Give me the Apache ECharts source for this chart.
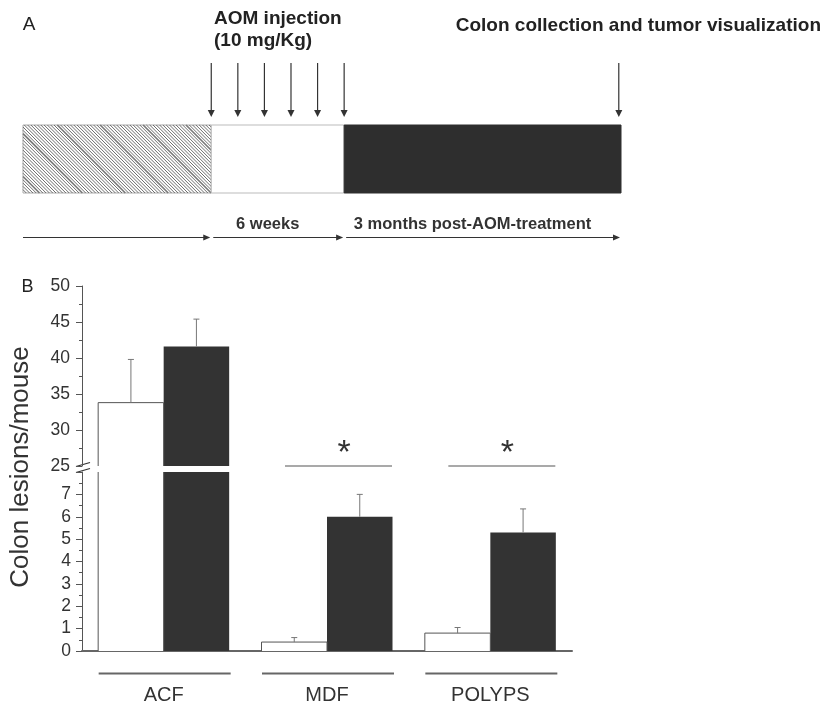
<!DOCTYPE html>
<html>
<head>
<meta charset="utf-8">
<script src="https://cdn.jsdelivr.net/npm/echarts@6/dist/echarts.min.js"></script>
<style>
html,body{margin:0;padding:0;background:#fff;}
#chart{width:823px;height:705px;}
</style>
</head>
<body>
<div id="chart"></div>
<script>
// ---------- data ----------
const categories = ['ACF', 'MDF', 'POLYPS'];
const controlMeans = [33.8, 0.4, 0.8];
const controlSEM = [6.0, 0.2, 0.25];
const treatedMeans = [41.6, 6.0, 5.3];
const treatedSEM = [3.8, 1.0, 1.05];
const significantCats = ['MDF', 'POLYPS'];
const upperRange = [25, 50];
const lowerRange = [0, 8];
const lowerTickLabels = [0, 1, 2, 3, 4, 5, 6, 7];

// Panel A timeline (weeks)
const phaseStart = [0, 8.5, 14.5];
const phaseEnd = [8.5, 14.5, 27];
const phaseLabels = ['', '6 weeks', '3 months post-AOM-treatment'];
const injectionWeeks = [8.5, 9.7, 10.9, 12.1, 13.3, 14.5];
const collectionWeeks = [26.9];

// ---------- styling ----------
const FONT = 'Liberation Sans, Arial, sans-serif';
const BAR_W = 65.5;
const INK = '#333';

const chart = echarts.init(document.getElementById('chart'), null, {renderer: 'canvas'});

function phaseRenderer(params, api) {
  const i = params.dataIndex;
  const p0 = api.coord([api.value(0), 1]);
  const p1 = api.coord([api.value(1), 0]);
  const x0 = p0[0], y0 = p0[1], x1 = p1[0], y1 = p1[1];
  const w = x1 - x0, h = y1 - y0;
  const children = [];
  if (i === 0) {
    children.push({type: 'rect', shape: {x: x0, y: y0, width: w, height: h}, style: {fill: '#fff', stroke: '#aaa', lineWidth: 1}});
    const step = 3.3;
    let k = 0;
    for (let t = -h; t < w; t += step, k++) {
      let sx = x0 + t, sy = y0;
      if (sx < x0) { sy = y0 + (x0 - sx); sx = x0; }
      let ex = x0 + t + h, ey = y1;
      if (ex > x1) { ey = y1 - (ex - x1); ex = x1; }
      const heavy = (k % 13 === 5);
      children.push({type: 'line', shape: {x1: sx, y1: sy, x2: ex, y2: ey},
        style: {stroke: heavy ? '#777' : '#5e5e5e', lineWidth: heavy ? 1.6 : 0.9}});
    }
  } else if (i === 1) {
    children.push({type: 'rect', shape: {x: x0, y: y0, width: w, height: h}, style: {fill: '#fff', stroke: '#bbb', lineWidth: 1}});
  } else {
    children.push({type: 'rect', shape: {x: x0, y: y0, width: w, height: h}, style: {fill: '#2e2e2e', stroke: '#2e2e2e', lineWidth: 1}});
  }
  const ya = y1 + 44.5;
  const xs = x0 + (i > 0 ? 2 : 0), xe = x1 - 1;
  children.push({type: 'line', shape: {x1: xs, y1: ya, x2: xe - 5, y2: ya}, style: {stroke: INK, lineWidth: 1.2}});
  children.push({type: 'polygon', shape: {points: [[xe - 7, ya - 3], [xe, ya], [xe - 7, ya + 3]]}, style: {fill: INK}});
  if (phaseLabels[i]) {
    children.push({type: 'text', x: (x0 + x1) / 2 - 10, y: y1 + 31,
      style: {text: phaseLabels[i], font: 'bold 16.5px ' + FONT, fill: INK, textAlign: 'center', textVerticalAlign: 'middle'}});
  }
  return {type: 'group', children};
}

function arrowDownRenderer(params, api) {
  const p = api.coord([api.value(0), 1]);
  const x = p[0], top = p[1];
  return {type: 'group', children: [
    {type: 'line', shape: {x1: x, y1: top - 62, x2: x, y2: top - 12}, style: {stroke: INK, lineWidth: 1.2}},
    {type: 'polygon', shape: {points: [[x - 3.5, top - 15], [x + 3.5, top - 15], [x, top - 8]]}, style: {fill: INK}}
  ]};
}

function outlineRenderer(params, api) {
  const cs = params.coordSys;
  const i = api.value(0), v = api.value(1);
  const pt = api.coord([i, v]);
  const base = api.coord([i, 0])[1];
  const cx = pt[0], yTop = pt[1];
  const gTop = cs.y, gBot = cs.y + cs.height;
  const top = Math.max(yTop, gTop), bot = Math.min(base, gBot);
  if (top >= bot) return null;
  const xl = cx - BAR_W, xr = cx;
  const st = {stroke: '#555', lineWidth: 1};
  const ch = [
    {type: 'line', shape: {x1: xl, y1: top, x2: xl, y2: bot}, style: st},
    {type: 'line', shape: {x1: xr, y1: top, x2: xr, y2: bot}, style: st}
  ];
  if (yTop >= gTop) ch.push({type: 'line', shape: {x1: xl, y1: yTop, x2: xr, y2: yTop}, style: st});
  return {type: 'group', children: ch};
}

function makeErrRenderer(range) {
  return function (params, api) {
    const i = api.value(0), m = api.value(1), t = api.value(2), g = api.value(3);
    if (m < range[0] || t > range[1]) return null;
    const pm = api.coord([i, m]), pt = api.coord([i, t]);
    const x = pm[0] + (g === 0 ? -BAR_W / 2 : BAR_W / 2);
    const st = {stroke: '#777', lineWidth: 1};
    return {type: 'group', children: [
      {type: 'line', shape: {x1: x, y1: pm[1], x2: x, y2: pt[1]}, style: st},
      {type: 'line', shape: {x1: x - 3, y1: pt[1], x2: x + 3, y2: pt[1]}, style: st}
    ]};
  };
}

function sigRenderer(params, api) {
  const cs = params.coordSys;
  const i = api.value(0);
  const cx = api.coord([i, upperRange[0]])[0];
  const y = cs.y + cs.height;
  return {type: 'group', children: [
    {type: 'line', shape: {x1: cx - 42, y1: y, x2: cx + 65, y2: y}, style: {stroke: '#555', lineWidth: 1.2}},
    {type: 'text', x: cx + 17, y: y - 12, style: {text: '*', font: '34px ' + FONT, fill: INK, textAlign: 'center', textVerticalAlign: 'middle'}}
  ]};
}

function underlineRenderer(params, api) {
  const p = api.coord([api.value(0), 0]);
  const y = p[1] + 22.6;
  return {type: 'line', shape: {x1: p[0] - 65, y1: y, x2: p[0] + 67, y2: y}, style: {stroke: '#666', lineWidth: 2}};
}

const errData = [];
categories.forEach((c, i) => {
  errData.push([i, controlMeans[i], controlMeans[i] + controlSEM[i], 0]);
  errData.push([i, treatedMeans[i], treatedMeans[i] + treatedSEM[i], 1]);
});

const yAxisCommon = {
  axisLine: {show: true, lineStyle: {color: '#555', width: 1}},
  axisTick: {show: true, length: 6, lineStyle: {color: '#555'}},
  minorTick: {show: true, splitNumber: 2, length: 3, lineStyle: {color: '#555'}},
  splitLine: {show: false},
  axisLabel: {fontSize: 17.5, color: INK, fontFamily: FONT, margin: 12}
};

const option = {
  animation: false,
  backgroundColor: '#fff',
  grid: [
    {left: 23, top: 125, width: 598, height: 68},
    {left: 82, top: 286, width: 490, height: 180},
    {left: 82, top: 472, width: 490, height: 179}
  ],
  xAxis: [
    {gridIndex: 0, type: 'value', min: 0, max: 27, show: false},
    {gridIndex: 1, type: 'category', data: categories, show: false},
    {gridIndex: 2, type: 'category', data: categories,
      axisLine: {show: true, lineStyle: {color: '#666', width: 2}},
      axisTick: {show: false},
      axisLabel: {margin: 34, fontSize: 20, color: INK, fontFamily: FONT}}
  ],
  yAxis: [
    {gridIndex: 0, type: 'value', min: 0, max: 1, show: false},
    Object.assign({gridIndex: 1, type: 'value', min: upperRange[0], max: upperRange[1], interval: 5}, yAxisCommon),
    Object.assign({gridIndex: 2, type: 'value', min: lowerRange[0], max: lowerRange[1], interval: 1}, yAxisCommon,
      {axisLabel: Object.assign({}, yAxisCommon.axisLabel, {margin: 11, customValues: lowerTickLabels})})
  ],
  series: [
    {type: 'custom', name: 'phases', xAxisIndex: 0, yAxisIndex: 0, renderItem: phaseRenderer,
      data: phaseStart.map((s, i) => [s, phaseEnd[i]]), encode: {x: [0, 1], y: -1}, silent: true},
    {type: 'custom', name: 'arrows', xAxisIndex: 0, yAxisIndex: 0, renderItem: arrowDownRenderer,
      data: injectionWeeks.concat(collectionWeeks).map(w => [w]), encode: {x: 0, y: -1}, silent: true},

    {type: 'bar', name: 'Control', xAxisIndex: 1, yAxisIndex: 1, data: controlMeans, barWidth: BAR_W, barGap: '0%',
      itemStyle: {color: '#fff'}, clip: true, silent: true},
    {type: 'bar', name: 'Treated', xAxisIndex: 1, yAxisIndex: 1, data: treatedMeans, barWidth: BAR_W, barGap: '0%',
      itemStyle: {color: '#333'}, clip: true, silent: true},
    {type: 'bar', name: 'Control', xAxisIndex: 2, yAxisIndex: 2, data: controlMeans, barWidth: BAR_W, barGap: '0%',
      itemStyle: {color: '#fff'}, clip: true, silent: true},
    {type: 'bar', name: 'Treated', xAxisIndex: 2, yAxisIndex: 2, data: treatedMeans, barWidth: BAR_W, barGap: '0%',
      itemStyle: {color: '#333'}, clip: true, silent: true},

    {type: 'custom', xAxisIndex: 1, yAxisIndex: 1, renderItem: outlineRenderer, z: 3,
      data: controlMeans.map((v, i) => [i, v]), silent: true},
    {type: 'custom', xAxisIndex: 2, yAxisIndex: 2, renderItem: outlineRenderer, z: 3,
      data: controlMeans.map((v, i) => [i, v]), silent: true},
    {type: 'custom', xAxisIndex: 1, yAxisIndex: 1, renderItem: makeErrRenderer(upperRange), z: 4, data: errData, silent: true},
    {type: 'custom', xAxisIndex: 2, yAxisIndex: 2, renderItem: makeErrRenderer(lowerRange), z: 4, data: errData, silent: true},
    {type: 'custom', xAxisIndex: 1, yAxisIndex: 1, renderItem: sigRenderer, z: 4,
      data: significantCats.map(c => [categories.indexOf(c), upperRange[0]]), silent: true},
    {type: 'custom', xAxisIndex: 2, yAxisIndex: 2, renderItem: underlineRenderer, z: 4,
      data: categories.map((c, i) => [i, 0]), silent: true}
  ],
  graphic: [
    {type: 'text', x: 29, y: 25, style: {text: 'A', font: '19px ' + FONT, fill: '#222', textAlign: 'center', textVerticalAlign: 'middle'}},
    {type: 'text', x: 214, y: 19, style: {text: 'AOM injection', font: 'bold 19px ' + FONT, fill: '#222', textAlign: 'left', textVerticalAlign: 'middle'}},
    {type: 'text', x: 214, y: 41, style: {text: '(10 mg/Kg)', font: 'bold 19px ' + FONT, fill: '#222', textAlign: 'left', textVerticalAlign: 'middle'}},
    {type: 'text', x: 821, y: 26, style: {text: 'Colon collection and tumor visualization', font: 'bold 19px ' + FONT, fill: '#222', textAlign: 'right', textVerticalAlign: 'middle'}},
    {type: 'text', x: 27.5, y: 287, style: {text: 'B', font: '18px ' + FONT, fill: '#222', textAlign: 'center', textVerticalAlign: 'middle'}},
    {type: 'text', x: 21, y: 467, rotation: Math.PI / 2, style: {text: 'Colon lesions/mouse', font: '26px ' + FONT, fill: INK, textAlign: 'center', textVerticalAlign: 'middle'}},
    {type: 'line', shape: {x1: 76, y1: 466.5, x2: 90, y2: 462.5}, style: {stroke: INK, lineWidth: 1.2}},
    {type: 'line', shape: {x1: 76, y1: 472.5, x2: 90, y2: 468.5}, style: {stroke: INK, lineWidth: 1.2}}
  ]
};
chart.setOption(option);
</script>
</body>
</html>
